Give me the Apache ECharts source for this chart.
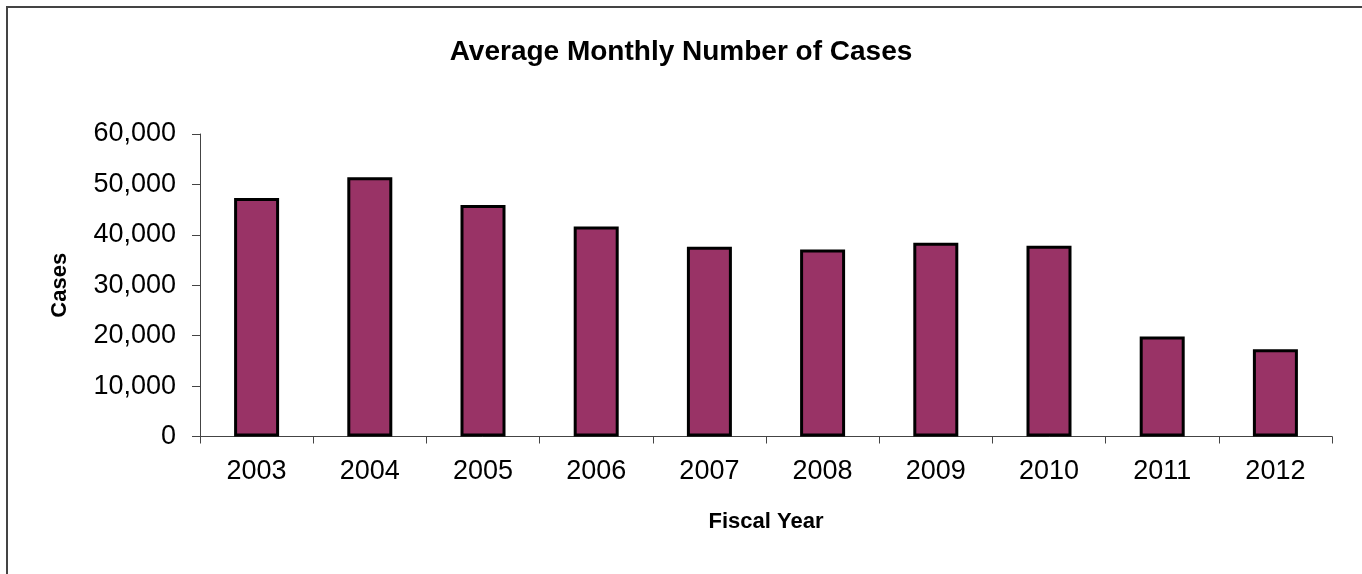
<!DOCTYPE html>
<html>
<head>
<meta charset="utf-8">
<style>
  html, body { margin: 0; padding: 0; background: #ffffff; }
  #chart { width: 1362px; height: 574px; }
</style>
<script src="https://cdn.jsdelivr.net/npm/echarts@6/dist/echarts.min.js"></script>
</head>
<body>
<div id="chart"></div>
<script>
// Fiscal years and average monthly case counts
const fiscalYears = ['2003', '2004', '2005', '2006', '2007', '2008', '2009', '2010', '2011', '2012'];
const monthlyCases = [47300, 51400, 45900, 41650, 37650, 37100, 38450, 37850, 19850, 17300];

const FONT = '"Liberation Sans", Arial, sans-serif';

const chart = echarts.init(document.getElementById('chart'), null, { renderer: 'canvas' });

chart.setOption({
  backgroundColor: '#ffffff',
  animation: false,
  title: {
    text: 'Average Monthly Number of Cases',
    left: 'center',
    top: 33,
    textStyle: { fontFamily: FONT, fontSize: 28, fontWeight: 'bold', color: '#000000' }
  },
  graphic: [{
    type: 'rect',
    shape: { x: 7, y: 7, width: 1400, height: 620 },
    style: { fill: 'none', stroke: '#444444', lineWidth: 2 },
    silent: true
  }],
  grid: { left: 200, right: 30, top: 134, bottom: 137.5 },
  xAxis: {
    type: 'category',
    data: fiscalYears,
    name: 'Fiscal Year',
    nameLocation: 'middle',
    nameGap: 74,
    nameTextStyle: { fontFamily: FONT, fontSize: 22, fontWeight: 'bold', color: '#000000' },
    axisLine: { lineStyle: { color: '#444444', width: 1 } },
    axisTick: { show: true, alignWithLabel: false, length: 7, lineStyle: { color: '#444444' } },
    axisLabel: { fontFamily: FONT, fontSize: 27, color: '#000000', margin: 22 }
  },
  yAxis: {
    type: 'value',
    min: 0,
    max: 60000,
    interval: 10000,
    name: 'Cases',
    nameLocation: 'middle',
    nameGap: 129,
    nameRotate: 90,
    nameTextStyle: { fontFamily: FONT, fontSize: 22, fontWeight: 'bold', color: '#000000' },
    axisLine: { show: true, lineStyle: { color: '#444444', width: 1 } },
    axisTick: { show: true, length: 8, lineStyle: { color: '#444444' } },
    splitLine: { show: false },
    axisLabel: {
      fontFamily: FONT, fontSize: 27, color: '#000000', margin: 24,
      formatter: v => v.toLocaleString('en-US')
    }
  },
  series: [{
    type: 'bar',
    data: monthlyCases,
    barWidth: 45,
    itemStyle: { color: '#993366', borderColor: '#000000', borderWidth: 3 }
  }]
});
</script>
</body>
</html>
